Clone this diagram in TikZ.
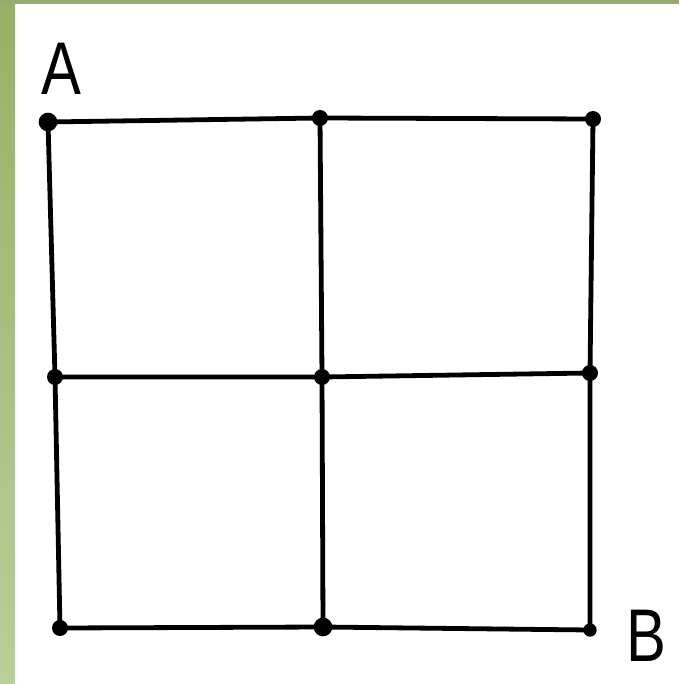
\documentclass[tikz,border=0pt]{standalone}
\usepackage{fontspec}
\setmainfont{Liberation Sans}
\definecolor{gtop}{RGB}{148,178,100}
\definecolor{gbot}{RGB}{184,207,154}
\definecolor{gband}{RGB}{150,172,110}
\begin{document}
\begin{tikzpicture}[x=0.75pt,y=-0.75pt,
  gridline/.style={line width=3.6pt,line cap=round,line join=round,black},
  dot/.style={circle,fill=black,inner sep=0pt,minimum size=12pt},
  letter/.style={font=\fontsize{56}{60}\selectfont,text=black,inner sep=0pt,xscale=0.8}]
\useasboundingbox (0,0) rectangle (679,684);
\fill[white] (0,0) rectangle (679,684);
\shade[top color=gtop,bottom color=gbot] (0,0) rectangle (15,684);
\fill[gband] (0,0) rectangle (679,4);
% dots
\node[dot,minimum size=14pt] (a1) at (48,122) {};
\node[dot] (a2) at (320,118) {};
\node[dot] (a3) at (593,119) {};
\node[dot] (b1) at (55,377) {};
\node[dot] (b2) at (322,377) {};
\node[dot] (b3) at (590,373) {};
\node[dot] (c1) at (60,628) {};
\node[dot,minimum size=14pt] (c2) at (323,627) {};
\node[dot,minimum size=10pt] (c3) at (590,630) {};
% lines
\draw[gridline] (a1.center) -- (a2.center) -- (a3.center);
\draw[gridline] (b1.center) -- (b2.center) -- (b3.center);
\draw[gridline] (c1.center) -- (c2.center) -- (c3.center);
\draw[gridline] (a1.center) -- (b1.center) -- (c1.center);
\draw[gridline] (a2.center) -- (b2.center) -- (c2.center);
\draw[gridline] (a3.center) -- (b3.center) -- (c3.center);
% labels
\node[letter] (A) at (61,69) {A};
\node[letter] (B) at (646,636) {B};
\end{tikzpicture}
\end{document}
